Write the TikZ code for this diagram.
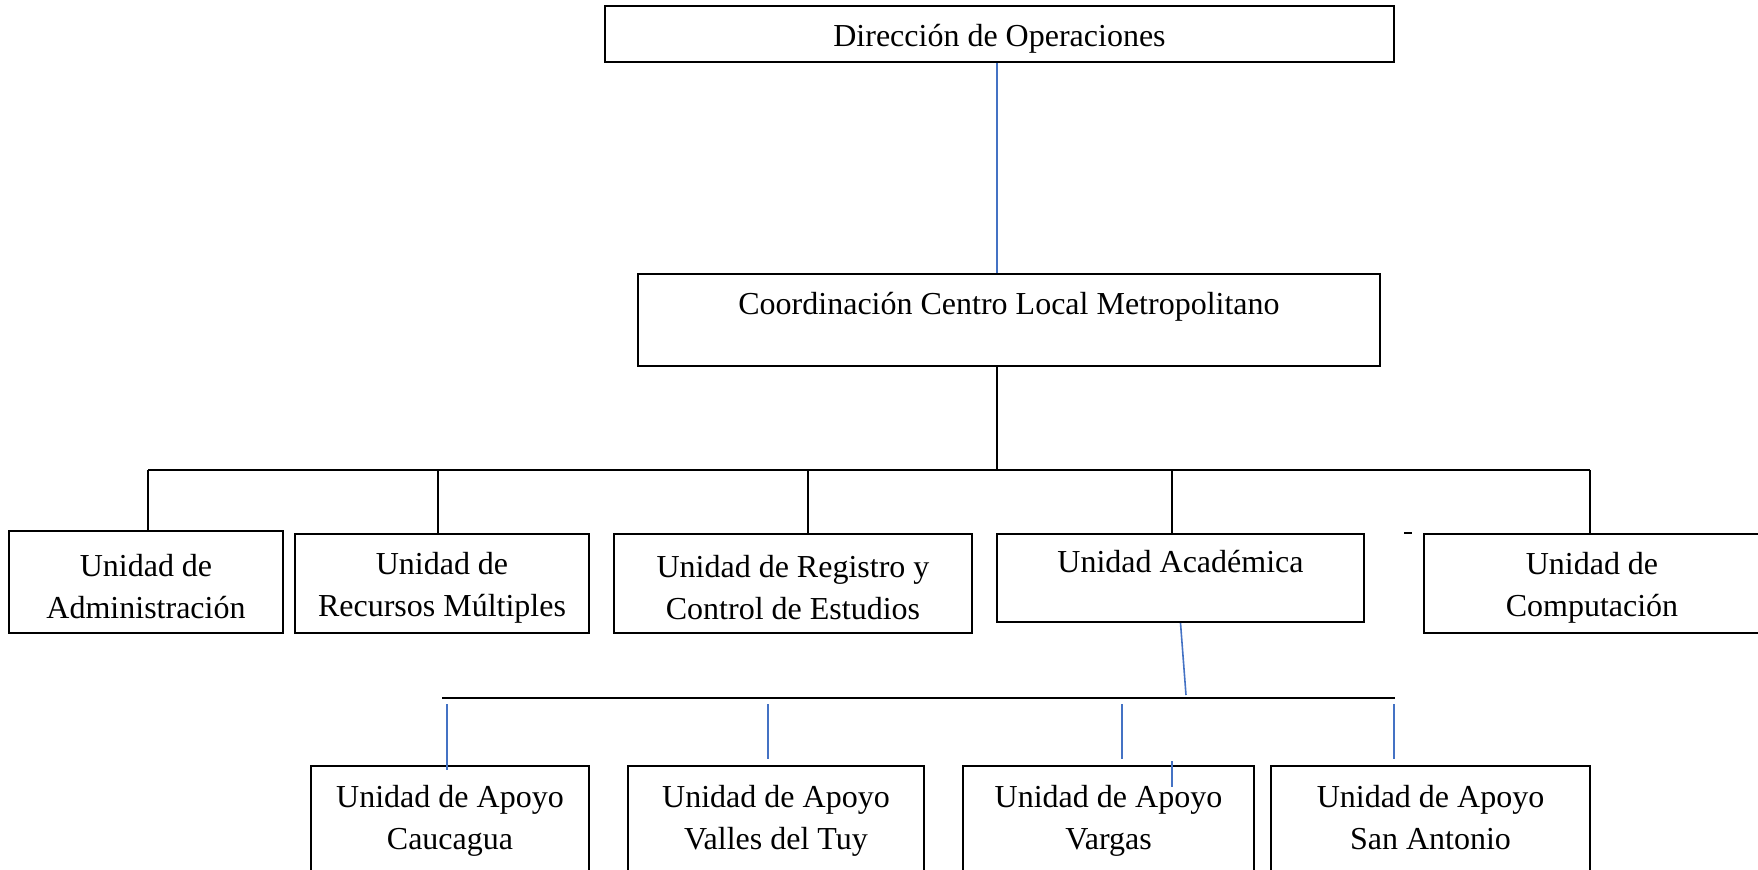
\documentclass[tikz,border=0pt]{standalone}
\usepackage{fontspec}
\setmainfont{Liberation Serif}
\definecolor{linkblue}{RGB}{68, 114, 196}
\usetikzlibrary{positioning}

\tikzset{
    unitbox/.style={draw, line width=1pt, align=center, inner sep=0pt,
                    font=\fontsize{16pt}{21pt}\selectfont},
    oneline/.style={unitbox, text height=15.5pt},
    twoline/.style={unitbox, text height=36.5pt},
    busline/.style={line width=0.8pt},
    blueline/.style={draw=linkblue, line width=0.8pt}
}

\begin{document}
\begin{tikzpicture}[x=0.5pt, y=-0.5pt]
    \useasboundingbox (0,0) rectangle (1758,869);
    \clip (0,0) rectangle (1758,869);

    % direccion y coordinacion
    \node[oneline, minimum width=394.5pt, minimum height=28pt] (dir) at (999.5,34)
        {Dirección de Operaciones};
    \node[twoline, minimum width=371pt, minimum height=46pt] (coord) at (1009,320)
        {Coordinación Centro Local Metropolitano\\\mbox{}};

    % unidades
    \node[twoline, minimum width=137pt, minimum height=51pt] (adm) at (146,582)
        {Unidad de\\Administración};
    \node[twoline, minimum width=147pt, minimum height=49.5pt] (rec) at (442,583.5)
        {Unidad de\\Recursos Múltiples};
    \node[twoline, minimum width=179pt, minimum height=49.5pt] (reg) at (793,583.5)
        {Unidad de Registro y\\Control de Estudios};
    \node[twoline, minimum width=183.5pt, minimum height=44pt] (aca) at (1180.5,578)
        {Unidad Académica\\\mbox{}};
    \node[twoline, minimum width=168pt, minimum height=49.5pt] (comp) at (1592,583.5)
        {Unidad de\\Computación};

    % unidades de apoyo
    \node[unitbox, minimum width=139pt, minimum height=72pt] (cau) at (450,838)
        {Unidad de Apoyo\\Caucagua\\\mbox{}};
    \node[unitbox, minimum width=148pt, minimum height=72pt] (val) at (776,838)
        {Unidad de Apoyo\\Valles del Tuy\\\mbox{}};
    \node[unitbox, minimum width=145.5pt, minimum height=72pt] (var) at (1108.5,838)
        {Unidad de Apoyo\\Vargas\\\mbox{}};
    \node[unitbox, minimum width=159.5pt, minimum height=72pt] (san) at (1430.5,838)
        {Unidad de Apoyo\\San Antonio\\\mbox{}};

    % conectores
    \coordinate (bus1) at (997,470);
    \draw[blueline] (dir.south -| bus1) -- (coord.north -| bus1);
    \draw[busline] (coord.south -| bus1) -- (bus1);
    \coordinate (busL) at (148,470);
    \coordinate (busR) at (1590,470);
    \draw[busline] (busL) -- (busR);
    \foreach \n/\x in {adm/148, rec/438, reg/808, aca/1172, comp/1590} {
        \coordinate (t-\n) at (\x,470);
        \draw[busline] (t-\n) -- (t-\n |- \n.north);
    }
    \draw[busline] ([xshift=-9.5pt]comp.north west) -- ++(8,0);

    \coordinate (bus2) at (1186,695);
    \draw[blueline] (aca.south) -- (bus2);
    \coordinate (bus2L) at (442,698);
    \coordinate (bus2R) at (1395,698);
    \draw[busline] (bus2L) -- (bus2R);
    \foreach \n/\x/\g in {cau/447/-2.5, val/768/3, var/1122/3, san/1394/3} {
        \coordinate (d-\n) at (\x,704);
        \draw[blueline] (d-\n) -- ([yshift=\g pt]d-\n |- \n.north);
    }
    \draw[blueline] ([xshift=31.75pt, yshift=2pt]var.north) -- ++(0,26);
\end{tikzpicture}
\end{document}
